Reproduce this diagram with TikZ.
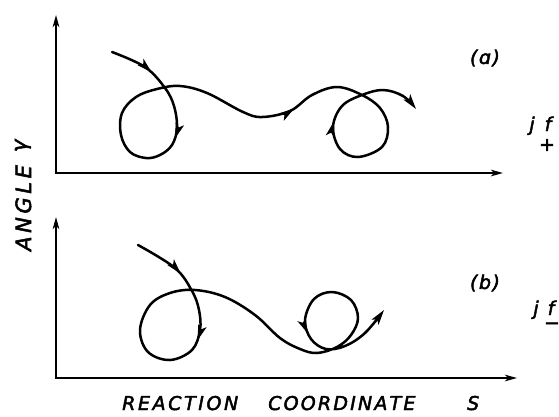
\documentclass[tikz,border=0pt]{standalone}
\usepackage{fontspec}
\setmainfont{DejaVu Sans}
\newfontfamily\lblfont[FakeBold=2.4]{DejaVu Sans}
\usetikzlibrary{arrows.meta,decorations.markings}
\makeatletter
\newcommand\myspaced[2]{\@tfor\myx:=#2\do{\myx\kern#1}\unkern}
\makeatother
\begin{document}
\begin{tikzpicture}[x=1pt,y=-1pt,
  tipc/.tip={Stealth[length=15pt,width=8.5pt,inset=3.5pt]},
  tipa/.tip={Stealth[length=12pt,width=6.5pt,inset=3pt]},
  curve/.style={line width=2.5pt,line cap=round,line join=round},
  axis/.style={line width=2pt},
  lab/.style={inner sep=0pt,font=\fontsize{19}{19}\lblfont\itshape},
  biglab/.style={inner sep=0pt,font=\fontsize{21}{21}\lblfont\itshape},
  panlab/.style={inner sep=0pt,font=\fontsize{19}{19}\lblfont\itshape},
  jlab/.style={inner sep=0pt,font=\fontsize{19}{19}\lblfont\itshape}]
\useasboundingbox (0,0) rectangle (559,416);
% axes
\draw[axis,{tipa}-{tipa}] (56,15) -- (56,173) -- (503,173);
\draw[axis,{tipa}-{tipa}] (56,217) -- (56,378) -- (517,378);
% curve (a)
\draw[curve,-{tipc},postaction={decorate},decoration={markings,
   mark=at position 0.062 with {\arrow{tipc}},
   mark=at position 0.164 with {\arrow{tipc}},
   mark=at position 0.56 with {\arrow{tipc}},
   mark=at position 0.859 with {\arrow{tipc}}}]
  plot[smooth,tension=0.6] coordinates {(112,52) (145,67) (165,88) (174,106) (177,128)
   (172,145) (160,155) (146,158) (130,152) (121,135) (122,113) (136,97) (157,89)
   (180,86) (207,93) (243,112) (262,117) (290,111) (312,95) (337,87) (362,95)
   (380,108) (388,127) (382,147) (358,157) (340,149) (333,127) (342,106) (362,95)
   (383,90) (403,96) (416,109)};
% curve (b)
\draw[curve,-{tipc},postaction={decorate},decoration={markings,
   mark=at position 0.076 with {\arrow{tipc}},
   mark=at position 0.182 with {\arrow{tipc}},
   mark=at position 0.855 with {\arrow{tipc}}}]
  plot[smooth,tension=0.6] coordinates {(138,245) (175,268) (192,291) (199,310) (200,330)
   (192,350) (170,360) (148,352) (140,330) (150,305) (170,293) (195,290) (225,297)
   (255,315) (280,338) (300,349) (317,353) (337,347) (351,335) (358,318) (351,300)
   (332,292) (314,299) (305,320) (311,339) (326,349) (345,346) (365,333) (384,310)};
% labels
\node[lab,anchor=base west] (reac) at (122,410) {\myspaced{2.6pt}{REACTION}};
\node[lab,anchor=base west] (coor) at (268,410) {\myspaced{2.2pt}{COORDINATE}};
\node[lab,anchor=base west] (sname) at (467,410) {S};
\node[biglab,rotate=90,anchor=base west] (ang) at (31,251) {\myspaced{3.6pt}{ANGLE}\hspace{13pt}\raisebox{0.22em}{γ}};
\node[panlab] (pa) at (485,58) {\myspaced{1.5pt}{(ɑ)}};
\node[panlab] (pb) at (485,283) {\myspaced{1.5pt}{(b)}};
\node[jlab,anchor=base] (ja) at (532,131) {j};
\node[jlab,anchor=base] (fa) at (548,131) {f};
\node[jlab] (plus) at (547,145) {+};
\node[jlab,anchor=base] (jb) at (536,315) {j};
\node[jlab,anchor=base] (fb) at (551,315) {f};
\node[jlab] (minus) at (552,326) {−};
\end{tikzpicture}
\end{document}
